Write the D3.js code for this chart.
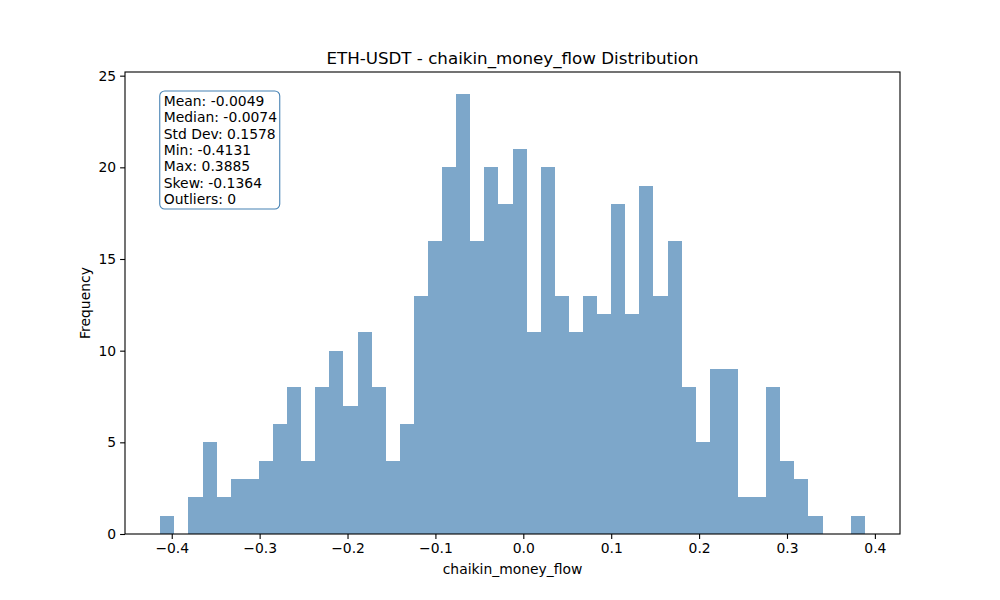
<!DOCTYPE html>
<html>
<head>
<meta charset="utf-8">
<script src="https://cdn.jsdelivr.net/npm/d3@7"></script>
<style>
  body { margin: 0; background: #fff; }
  text { font-family: "DejaVu Sans", sans-serif; }
</style>
</head>
<body>
<svg id="chart" width="1000" height="600"></svg>
<script>
// DATA
const title = "ETH-USDT - chaikin_money_flow Distribution";
const xLabel = "chaikin_money_flow";
const yLabel = "Frequency";
const binMin = -0.4131, binMax = 0.3885;
const counts = [1, 0, 2, 5, 2, 3, 3, 4, 6, 8,
                4, 8, 10, 7, 11, 8, 4, 6, 13, 16,
                20, 24, 16, 20, 18, 21, 11, 20, 13, 11,
                13, 12, 18, 12, 19, 13, 16, 8, 5, 9,
                9, 2, 2, 8, 4, 3, 1, 0, 0, 1];
const xTicks = [-0.4, -0.3, -0.2, -0.1, 0.0, 0.1, 0.2, 0.3, 0.4];
const yTicks = [0, 5, 10, 15, 20, 25];
const statLines = ["Mean: -0.0049", "Median: -0.0074", "Std Dev: 0.1578", "Min: -0.4131",
                   "Max: 0.3885", "Skew: -0.1364", "Outliers: 0"];

// CANVAS SETUP
const svg = d3.select("#chart");
const margin = { top: 72, right: 100, bottom: 66, left: 125 },
  width = 1000 - margin.left - margin.right,
  height = 600 - margin.top - margin.bottom;

const g = svg.append("g").attr("transform", `translate(${margin.left},${margin.top})`);

const binW = (binMax - binMin) / counts.length;
const bins = counts.map((c, i) => ({ x0: binMin + i * binW, x1: binMin + (i + 1) * binW, n: c }));

const pad = (binMax - binMin) * 0.05;
const x = d3.scaleLinear().domain([binMin - pad, binMax + pad]).range([0, width]);
const y = d3.scaleLinear().domain([0, d3.max(counts) * 1.05]).range([height, 0]);

// bars
g.selectAll("rect.bar")
  .data(bins.filter(d => d.n > 0))
  .join("rect")
  .attr("class", "bar")
  .attr("x", d => x(d.x0))
  .attr("y", d => y(d.n))
  .attr("width", d => x(d.x1) - x(d.x0))
  .attr("height", d => y(0) - y(d.n))
  .attr("fill", "steelblue")
  .attr("fill-opacity", 0.7)
  .attr("shape-rendering", "crispEdges");

// axes
const xAxis = g.append("g")
  .attr("transform", `translate(0,${height})`)
  .call(d3.axisBottom(x).tickValues(xTicks).tickFormat(d3.format(".1f")).tickSizeOuter(0).tickSize(4.9).tickPadding(4));
const yAxis = g.append("g")
  .call(d3.axisLeft(y).tickValues(yTicks).tickFormat(d3.format("d")).tickSizeOuter(0).tickSize(4.9).tickPadding(4));

[xAxis, yAxis].forEach(a => {
  a.select(".domain").remove();
  a.selectAll("line").attr("stroke", "#000").attr("stroke-width", 1.1);
  a.selectAll("text").attr("font-size", 13.9).attr("fill", "#000")
    .style("font-family", "DejaVu Sans, sans-serif");
});
xAxis.selectAll("text").text(d => d3.format(".1f")(d).replace("-", "\u2212"));

// spines
g.append("rect")
  .attr("width", width).attr("height", height)
  .attr("fill", "none").attr("stroke", "#000").attr("stroke-width", 1.1);

// title & labels
svg.append("text")
  .attr("x", margin.left + width / 2).attr("y", 64)
  .attr("text-anchor", "middle").attr("font-size", 16.7)
  .text(title);
svg.append("text")
  .attr("x", margin.left + width / 2).attr("y", 574)
  .attr("text-anchor", "middle").attr("font-size", 13.9)
  .text(xLabel);
svg.append("text")
  .attr("transform", `translate(90,${margin.top + height / 2}) rotate(-90)`)
  .attr("text-anchor", "middle").attr("font-size", 13.9)
  .text(yLabel);

// stats box
const box = g.append("g").attr("transform", `translate(${width * 0.05 - 4},${19})`);
box.append("rect")
  .attr("width", 120).attr("height", 118)
  .attr("rx", 5).attr("ry", 5)
  .attr("fill", "#fff").attr("fill-opacity", 0.8)
  .attr("stroke", "steelblue").attr("stroke-width", 1.1);
box.selectAll("text")
  .data(statLines)
  .join("text")
  .attr("x", 4)
  .attr("y", (d, i) => 15 + i * 16.3)
  .attr("font-size", 13.9)
  .text(d => d);
</script>
</body>
</html>
